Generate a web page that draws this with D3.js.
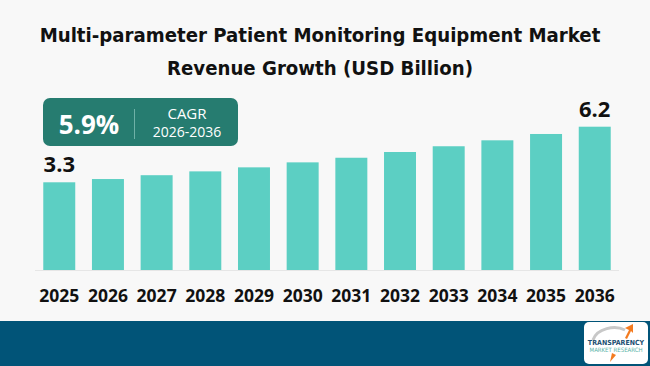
<!DOCTYPE html>
<meta charset="utf-8">
<style>
  html, body { margin: 0; padding: 0; background: #f8f8f8; }
  svg { display: block; }
</style>
<body>
<svg id="chart" width="650" height="366"></svg>
<script src="https://cdnjs.cloudflare.com/ajax/libs/d3/7.8.5/d3.min.js"></script>
<script>
  var years = ["2025", "2026", "2027", "2028", "2029", "2030", "2031", "2032", "2033", "2034", "2035", "2036"];
  var revenue = [3.3, 3.47, 3.67, 3.87, 4.08, 4.34, 4.58, 4.88, 5.18, 5.49, 5.82, 6.2];
  var shownLabels = ["2025", "2036"];
  var titleLines = ["Multi-parameter Patient Monitoring Equipment Market", "Revenue Growth (USD Billion)"];
  var cagr = "5.9%";
  var cagrPeriod = "2026-2036";

  var svg = d3.select("#chart");
  var narrow = "'DejaVu Sans Condensed', 'DejaVu Sans', sans-serif";

  svg.append("rect").attr("width", 650).attr("height", 366).attr("fill", "#f8f8f8");

  // title
  svg.append("g").selectAll("text")
    .data(titleLines)
    .enter().append("text")
    .attr("x", 320)
    .attr("y", function (d, i) { return 41.5 + i * 33; })
    .attr("text-anchor", "middle")
    .style("font-family", narrow)
    .style("font-weight", "bold")
    .style("font-size", "20.2px")
    .attr("fill", "#111")
    .text(function (d) { return d; });

  var x = d3.scaleBand().domain(years).range([35, 619]).paddingInner(0.343).paddingOuter(0.17);
  // bars don't start at zero in the original graphic
  var y = d3.scaleLinear().domain([-1.275, 6.2]).range([270, 126.7]);

  svg.append("g").selectAll("rect")
    .data(years)
    .enter().append("rect")
    .attr("x", function (d) { return x(d); })
    .attr("y", function (d, i) { return y(revenue[i]); })
    .attr("width", x.bandwidth())
    .attr("height", function (d, i) { return 270 - y(revenue[i]); })
    .attr("fill", "#5ccfc3");

  // baseline
  svg.append("line").attr("x1", 35).attr("x2", 619).attr("y1", 270.5).attr("y2", 270.5)
    .attr("stroke", "#e6e6e6").attr("stroke-width", 1);

  // value labels on first and last bar
  svg.append("g").selectAll("text")
    .data(years.filter(function (d) { return shownLabels.indexOf(d) >= 0; }))
    .enter().append("text")
    .attr("x", function (d) { return x(d) + x.bandwidth() / 2; })
    .attr("y", function (d) { return y(revenue[years.indexOf(d)]) - 10; })
    .attr("text-anchor", "middle")
    .style("font-family", "'Open Sans', sans-serif")
    .style("font-weight", "bold")
    .style("font-size", "22px")
    .attr("fill", "#111")
    .text(function (d) { return revenue[years.indexOf(d)].toFixed(1); });

  // year axis
  var axis = svg.append("g").attr("transform", "translate(0,270)")
    .call(d3.axisBottom(x).tickSize(0).tickPadding(0));
  axis.select(".domain").remove();
  axis.selectAll("text")
    .attr("dy", 0).attr("y", 32.3)
    .style("font-family", "'Open Sans', sans-serif")
    .style("font-weight", "bold")
    .style("font-size", "17.5px")
    .attr("fill", "#111");

  // CAGR badge
  var badge = svg.append("g");
  badge.append("rect").attr("x", 43).attr("y", 98).attr("width", 195).attr("height", 48)
    .attr("rx", 7).attr("fill", "#267c70");
  badge.append("text").attr("x", 89).attr("y", 134).attr("text-anchor", "middle")
    .style("font-family", "'Open Sans', sans-serif").style("font-weight", "bold").style("font-size", "26px")
    .attr("fill", "#fff").text(cagr);
  badge.append("line").attr("x1", 134.5).attr("x2", 134.5).attr("y1", 109).attr("y2", 139)
    .attr("stroke", "#6fb1a7").attr("stroke-width", 1);
  badge.append("text").attr("x", 187).attr("y", 119).attr("text-anchor", "middle")
    .style("font-family", "'Open Sans', sans-serif").style("font-size", "15px")
    .attr("fill", "#fff").text("CAGR");
  badge.append("text").attr("x", 187).attr("y", 137).attr("text-anchor", "middle")
    .style("font-family", "'Open Sans', sans-serif").style("font-size", "14px")
    .attr("fill", "#fff").text(cagrPeriod);

  // footer band
  svg.append("rect").attr("x", 0).attr("y", 321).attr("width", 650).attr("height", 45).attr("fill", "#015478");

  // logo
  var logo = svg.append("g").attr("transform", "translate(584,322)");
  logo.append("rect").attr("width", 64).attr("height", 42).attr("rx", 5).attr("fill", "#fff");
  logo.append("path").attr("d", "M9,18 C13,6 31,3 41,8").attr("fill", "none").attr("stroke", "#c8c8c8").attr("stroke-width", 3);
  logo.append("path").attr("d", "M41,16 L45,8 L41,6 L49,2 L49,11 L47,9 L43,17 Z").attr("fill", "#f47b20");
  logo.append("path").attr("d", "M28,31 L26,40 L32,33 Z").attr("fill", "#f47b20");
  logo.append("text").attr("x", 32).attr("y", 23).attr("text-anchor", "middle")
    .style("font-family", narrow).style("font-weight", "bold").style("font-size", "7px")
    .attr("fill", "#1b4f72").text("TRANSPARENCY");
  logo.append("text").attr("x", 32).attr("y", 30).attr("text-anchor", "middle")
    .style("font-family", narrow).style("font-size", "6px")
    .attr("fill", "#5ab4a8").text("MARKET RESEARCH");
</script>
</body>
